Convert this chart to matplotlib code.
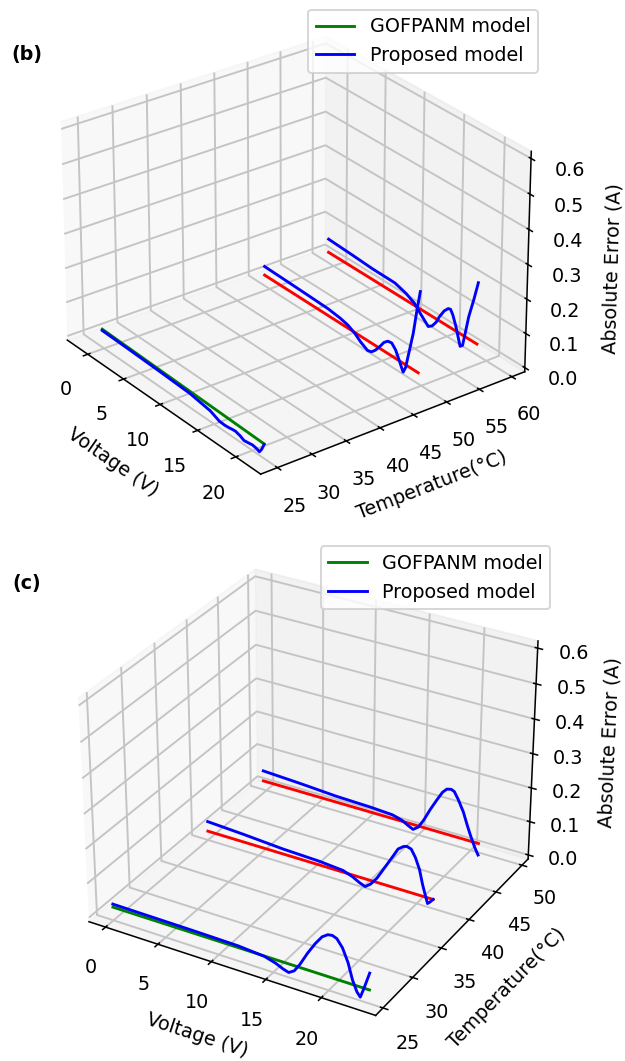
import matplotlib
matplotlib.use("Agg")
import matplotlib.pyplot as plt

# panel b
b_temps = [25, 50, 60]
b_ref_v = [[-0.2, 21.5], [-0.7, 19.6], [-0.7, 18.8]]
b_ref_z = [[0.042, 0.030], [0.02, 0.02], [0.02, 0.02]]
b_v1 = [-0.2, 3.6, 7.7, 11.8, 14.5, 15.7, 16.4, 16.9, 17.4, 17.8, 18.4, 18.9, 19.5, 20.0, 20.5, 20.9, 21.2, 21.5]
b_z1 = [0.038, 0.036, 0.033, 0.029, 0.019, 0.007, 0.006, 0.007, 0.009, 0.010, 0.006, 0.000, 0.002, 0.004, 0.002, -0.002, 0.010, 0.028]
b_v2 = [-0.7, 2.7, 5.5, 7.9, 9.5, 10.5, 11.4, 12.2, 13.1, 13.6, 14.1, 14.7, 15.2, 15.7, 16.2, 16.7, 17.2, 17.5, 17.7, 18.0, 18.3, 18.9, 19.3, 19.7]
b_z2 = [0.046, 0.044, 0.042, 0.040, 0.035, 0.029, 0.018, 0.003, -0.009, -0.006, 0.006, 0.026, 0.045, 0.056, 0.058, 0.045, 0.020, 0.004, -0.006, 0.012, 0.050, 0.125, 0.195, 0.257]
b_v3 = [-0.7, 2.6, 5.2, 8.2, 9.7, 10.8, 11.6, 12.6, 13.1, 13.6, 14.0, 14.6, 15.1, 15.4, 15.7, 16.1, 16.5, 16.7, 17.0, 17.3, 17.7, 18.3, 18.8]
b_z3 = [0.060, 0.056, 0.052, 0.051, 0.040, 0.026, 0.006, -0.017, -0.008, 0.010, 0.032, 0.058, 0.072, 0.074, 0.062, 0.035, 0.000, -0.017, -0.010, 0.030, 0.085, 0.145, 0.200]

# panel c
c_temps = [25, 40, 50]
c_ref_v = [[0, 23.6], [0, 21.5], [-0.3, 20.7]]
c_ref_z = [[0.027, 0.027], [0.015, 0.015], [0.015, 0.015]]
c_v1 = [0, 3.9, 7.8, 11.8, 14.2, 15.2, 15.9, 16.4, 16.9, 17.4, 18.1, 18.8, 19.4, 19.9, 20.3, 20.7, 21.2, 21.7, 22.1, 22.5, 22.8, 23.1, 23.6]
c_z1 = [0.036, 0.035, 0.034, 0.032, 0.026, 0.017, 0.007, 0.002, 0.012, 0.035, 0.075, 0.110, 0.135, 0.146, 0.148, 0.143, 0.122, 0.085, 0.040, 0.010, -0.002, 0.025, 0.075]
c_v2 = [0, 3.6, 7.3, 10.9, 13.1, 14.0, 14.7, 15.2, 15.7, 16.3, 17.0, 17.7, 18.2, 18.7, 19.0, 19.4, 19.8, 20.2, 20.5, 20.8, 21.0, 21.2, 21.5]
c_z2 = [0.044, 0.038, 0.030, 0.026, 0.020, 0.010, -0.002, -0.008, 0.004, 0.028, 0.066, 0.104, 0.132, 0.144, 0.147, 0.143, 0.122, 0.090, 0.050, 0.018, -0.002, 0.004, 0.015]
c_v3 = [-0.3, 3.5, 7.0, 10.4, 12.5, 13.4, 14.1, 14.5, 15.0, 15.5, 16.1, 16.7, 17.2, 17.6, 18.0, 18.3, 18.7, 19.2, 19.6, 19.9, 20.2, 20.4, 20.7]
c_z3 = [0.046, 0.040, 0.033, 0.030, 0.026, 0.018, 0.006, 0.000, 0.012, 0.038, 0.076, 0.110, 0.137, 0.150, 0.153, 0.149, 0.128, 0.096, 0.060, 0.035, 0.012, -0.002, -0.020]

vticks_b = [0, 5, 10, 15, 20]
tticks_b = [25, 30, 35, 40, 45, 50, 55, 60]
vticks_c = [0, 5, 10, 15, 20]
tticks_c = [25, 30, 35, 40, 45, 50]
zticks = [0.0, 0.1, 0.2, 0.3, 0.4, 0.5, 0.6]

plt.rcParams['grid.linewidth'] = 1.0
plt.rcParams['grid.color'] = '#c4c4c4'

fig = plt.figure(figsize=(625 / 138, 1061 / 138), dpi=138)


def panel(rect, temps, ref_v, ref_z, curves, vticks, tticks, elev, azim, xlim, ylim, loc, focal, aspect):
    ax = fig.add_axes(rect, projection='3d')
    ax.set_box_aspect(aspect)
    ax.set_proj_type('persp', focal_length=focal)
    ax.view_init(elev=elev, azim=azim)
    ax.plot(ref_v[0], [temps[0]] * 2, ref_z[0], color='green', label='GOFPANM model')
    ax.plot(ref_v[1], [temps[1]] * 2, ref_z[1], color='red')
    ax.plot(ref_v[2], [temps[2]] * 2, ref_z[2], color='red')
    for i, (v, z) in enumerate(curves):
        ax.plot(v, [temps[i]] * len(v), z, color='blue',
                label='Proposed model' if i == 0 else None)
    ax.set_xlim(*xlim)
    ax.set_ylim(*ylim)
    ax.set_zlim(-0.012, 0.62)
    ax.set_xticks(vticks)
    ax.set_yticks(tticks)
    ax.set_zticks(zticks)
    ax.set_xlabel('Voltage (V)')
    ax.set_ylabel('Temperature(°C)')
    ax.set_zlabel('Absolute Error (A)')
    ax.legend(loc='upper right', bbox_to_anchor=loc, bbox_transform=fig.transFigure)
    return ax


panel([-0.015, 0.5175, 0.95, 0.485], b_temps, b_ref_v, b_ref_z,
      [(b_v1, b_z1), (b_v2, b_z2), (b_v3, b_z3)], vticks_b, tticks_b,
      28, -37, (-2.9, 23.2), (22.6, 62), (0.876, 1.0), 1.5, (4, 4, 3))
panel([0.014, 0.014, 0.95, 0.485], c_temps, c_ref_v, c_ref_z,
      [(c_v1, c_z1), (c_v2, c_z2), (c_v3, c_z3)], vticks_c, tticks_c,
      30, -60, (-1.6, 24.8), (23.8, 51.2), (0.896, 0.494), 1.0, (4, 4, 3.1))

fig.text(0.018, 0.943, '(b)', fontweight='bold')
fig.text(0.02, 0.445, '(c)', fontweight='bold')

fig.savefig('out.png', dpi=138)
